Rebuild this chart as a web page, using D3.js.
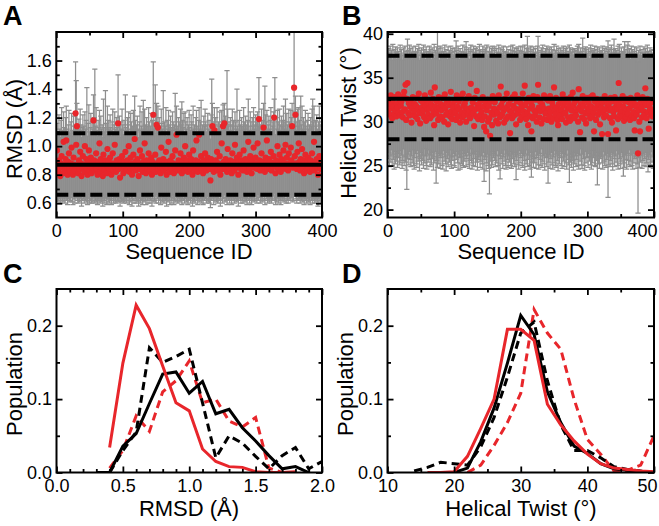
<!DOCTYPE html>
<html><head><meta charset="utf-8">
<script src="https://cdn.jsdelivr.net/npm/d3@7"></script>
<style>body{margin:0;background:#fff}svg{display:block}</style>
</head><body><svg id="c" width="659" height="526"></svg>
<script>
// ---------- Panel A: per-sequence RMSD (Å): mean, lower end, upper end ----------
const rmsdMean=[
0.97,0.84,0.82,0.90,0.86,0.79,0.88,0.93,0.85,0.81,1.03,0.87,0.83,0.91,1.04,0.86,0.80,0.89,0.95,0.84,
0.82,0.88,0.99,0.85,0.80,0.92,0.87,0.83,1.23,1.01,1.14,0.86,0.81,0.90,0.84,0.96,0.88,0.79,0.85,0.93,
0.87,0.82,1.00,0.86,0.91,0.84,0.80,0.89,0.97,0.83,0.86,0.92,0.81,0.88,0.85,1.18,0.90,0.83,0.87,0.95,
0.84,0.80,0.89,0.86,1.02,0.82,0.91,0.85,0.88,0.79,0.94,0.86,0.83,0.90,0.87,0.81,0.98,0.85,0.89,0.84,
0.92,0.86,0.80,0.88,0.95,0.83,0.87,1.01,0.85,0.82,0.90,0.86,1.16,0.84,0.91,0.78,0.88,0.85,0.93,0.87,
0.81,0.89,0.84,0.96,0.86,0.83,0.90,0.87,1.00,0.82,0.85,0.92,0.88,0.80,0.86,0.94,0.84,1.05,0.89,0.83,
0.87,0.91,0.85,0.79,0.88,0.97,0.84,0.86,0.93,0.82,0.89,0.85,1.02,0.87,0.81,0.90,0.86,0.84,0.95,0.88,
0.83,0.86,0.92,0.80,0.89,1.22,0.85,0.87,0.94,0.82,1.15,0.88,1.13,0.84,0.90,0.86,0.81,0.99,0.87,0.85,
0.91,0.83,0.88,0.86,0.96,0.80,0.89,0.85,1.03,0.87,0.82,0.90,0.86,0.84,0.93,0.88,0.81,0.87,0.97,0.85,
1.08,0.86,0.83,0.90,0.88,0.84,0.95,0.87,0.81,0.89,0.86,0.92,0.83,1.00,0.88,0.85,0.90,0.82,0.87,0.94,
0.86,0.84,0.91,0.88,0.80,0.97,0.85,0.87,0.83,0.90,1.04,0.86,0.82,0.89,1.08,0.85,0.88,0.93,0.84,0.87,
0.81,0.90,0.86,0.95,0.88,0.83,0.87,0.92,0.85,0.89,0.84,0.76,0.91,0.86,1.14,0.88,0.82,1.11,0.87,0.90,
0.85,0.96,0.83,0.88,0.86,0.93,0.80,0.87,1.02,0.84,1.14,0.89,1.16,0.85,0.91,0.87,0.82,0.98,0.86,0.88,
0.84,0.90,0.87,0.81,0.95,0.86,0.89,0.83,1.01,0.88,0.85,0.92,0.86,0.80,0.89,0.94,0.87,0.84,0.90,0.86,
0.83,0.97,0.88,0.85,0.91,0.87,0.82,0.89,1.03,0.86,0.84,0.93,0.88,0.81,0.90,0.86,0.99,0.85,0.87,0.92,
0.88,0.84,1.02,0.86,1.19,0.90,0.83,0.87,0.95,0.85,0.89,1.13,0.86,0.82,0.92,0.88,1.04,0.84,0.87,0.91,
0.85,0.89,0.96,0.83,0.88,0.86,0.93,1.20,0.87,0.81,0.90,0.85,1.00,0.88,0.84,0.94,0.87,0.82,0.91,0.86,
0.89,0.97,0.85,0.88,1.01,0.84,0.92,0.87,0.83,0.95,0.88,0.86,0.99,0.90,1.14,0.85,0.87,1.41,0.93,1.22,
0.88,0.84,0.96,0.86,1.02,0.89,0.83,0.91,0.87,0.98,0.85,0.90,0.81,0.88,0.94,0.86,0.83,0.89,0.92,0.85,
0.87,0.82,0.90,0.86,0.95,0.84,0.88,1.03,0.83,0.89,0.86,0.91,0.85,0.80,0.88,0.93,0.87,0.84,0.90,0.86];
const rmsdHigh=[
1.16,1.10,1.08,1.22,1.12,1.06,1.18,1.27,1.11,1.09,1.24,1.13,1.08,1.20,1.28,1.12,1.07,1.15,1.25,1.10,
1.09,1.17,1.23,1.11,1.07,1.21,1.14,1.10,1.59,1.46,1.30,1.12,1.08,1.19,1.11,1.26,1.15,1.06,1.13,1.22,
1.14,1.09,1.24,1.12,1.18,1.41,1.07,1.16,1.29,1.10,1.13,1.23,1.08,1.17,1.12,1.36,1.20,1.54,1.14,1.27,
1.11,1.07,1.18,1.13,1.25,1.09,1.21,1.12,1.15,1.06,1.33,1.13,1.10,1.39,1.16,1.08,1.28,1.12,1.18,1.11,
1.22,1.13,1.07,1.17,1.26,1.10,1.15,1.24,1.12,1.09,1.20,1.13,1.50,1.11,1.21,1.06,1.17,1.12,1.26,1.15,
1.08,1.18,1.11,1.36,1.13,1.10,1.20,1.15,1.24,1.09,1.12,1.23,1.17,1.07,1.14,1.25,1.11,1.35,1.18,1.10,
1.15,1.21,1.12,1.06,1.17,1.28,1.11,1.14,1.24,1.09,1.32,1.12,1.26,1.15,1.08,1.20,1.14,1.11,1.27,1.17,
1.10,1.14,1.23,1.07,1.18,1.59,1.12,1.16,1.43,1.09,1.30,1.17,1.28,1.11,1.20,1.14,1.08,1.26,1.16,1.12,
1.39,1.10,1.17,1.14,1.27,1.07,1.18,1.12,1.25,1.15,1.09,1.21,1.13,1.11,1.24,1.17,1.08,1.15,1.37,1.12,
1.28,1.14,1.10,1.20,1.17,1.11,1.26,1.15,1.31,1.18,1.13,1.23,1.10,1.24,1.17,1.12,1.20,1.09,1.15,1.25,
1.13,1.11,1.22,1.17,1.07,1.28,1.12,1.15,1.10,1.20,1.25,1.14,1.09,1.18,1.27,1.12,1.17,1.32,1.11,1.15,
1.08,1.21,1.14,1.26,1.17,1.10,1.15,1.23,1.12,1.18,1.11,1.05,1.22,1.47,1.30,1.17,1.09,1.27,1.15,1.20,
1.12,1.27,1.10,1.17,1.14,1.24,1.07,1.15,1.25,1.11,1.29,1.18,1.30,1.12,1.21,1.15,1.53,1.26,1.14,1.17,
1.11,1.20,1.15,1.08,1.26,1.14,1.18,1.10,1.24,1.17,1.12,1.40,1.14,1.07,1.18,1.25,1.15,1.11,1.20,1.14,
1.10,1.27,1.17,1.12,1.21,1.15,1.09,1.18,1.33,1.14,1.11,1.24,1.17,1.08,1.20,1.14,1.27,1.12,1.15,1.22,
1.17,1.11,1.24,1.14,1.48,1.20,1.10,1.15,1.26,1.12,1.18,1.30,1.14,1.42,1.22,1.17,1.25,1.11,1.15,1.21,
1.12,1.18,1.27,1.10,1.17,1.14,1.24,1.33,1.48,1.08,1.20,1.12,1.25,1.17,1.11,1.26,1.15,1.09,1.21,1.14,
1.18,1.28,1.12,1.17,1.33,1.11,1.23,1.15,1.10,1.26,1.17,1.14,1.25,1.20,1.30,1.12,1.15,1.80,1.24,1.35,
1.17,1.11,1.26,1.14,1.27,1.18,1.10,1.35,1.15,1.28,1.12,1.20,1.08,1.17,1.25,1.14,1.10,1.18,1.23,1.12,
1.15,1.09,1.20,1.14,1.26,1.33,1.17,1.28,1.10,1.18,1.14,1.22,1.12,1.07,1.17,1.28,1.15,1.11,1.20,1.14];
const rmsdLow=[
0.64,0.61,0.62,0.65,0.63,0.60,0.64,0.66,0.62,0.61,0.65,0.63,0.60,0.64,0.66,0.62,0.59,0.63,0.65,0.61,
0.62,0.64,0.66,0.61,0.59,0.65,0.63,0.60,0.67,0.64,0.66,0.62,0.60,0.64,0.61,0.65,0.63,0.58,0.62,0.65,
0.63,0.60,0.65,0.62,0.64,0.61,0.59,0.63,0.66,0.60,0.62,0.65,0.60,0.63,0.61,0.66,0.64,0.60,0.62,0.65,
0.61,0.59,0.63,0.62,0.65,0.60,0.64,0.61,0.63,0.58,0.65,0.62,0.60,0.64,0.63,0.59,0.66,0.61,0.63,0.60,
0.65,0.62,0.59,0.63,0.66,0.60,0.62,0.65,0.61,0.60,0.64,0.62,0.66,0.61,0.64,0.58,0.63,0.61,0.65,0.62,
0.60,0.63,0.61,0.65,0.62,0.60,0.64,0.62,0.66,0.59,0.61,0.65,0.63,0.58,0.62,0.65,0.60,0.66,0.63,0.60,
0.62,0.64,0.61,0.58,0.63,0.66,0.60,0.62,0.65,0.59,0.63,0.61,0.66,0.62,0.59,0.64,0.62,0.60,0.65,0.63,
0.60,0.62,0.65,0.58,0.63,0.67,0.61,0.62,0.65,0.60,0.66,0.63,0.66,0.60,0.64,0.62,0.59,0.66,0.62,0.61,
0.64,0.60,0.63,0.62,0.65,0.58,0.63,0.61,0.66,0.62,0.59,0.64,0.62,0.60,0.65,0.63,0.59,0.62,0.66,0.61,
0.66,0.62,0.60,0.64,0.63,0.61,0.65,0.62,0.59,0.63,0.62,0.65,0.60,0.66,0.63,0.61,0.64,0.59,0.62,0.65,
0.62,0.60,0.64,0.63,0.58,0.66,0.61,0.62,0.60,0.64,0.66,0.62,0.59,0.63,0.66,0.61,0.63,0.65,0.60,0.62,
0.59,0.64,0.62,0.65,0.63,0.60,0.62,0.65,0.61,0.63,0.60,0.57,0.64,0.62,0.66,0.63,0.59,0.66,0.62,0.64,
0.61,0.65,0.60,0.63,0.62,0.65,0.58,0.62,0.66,0.60,0.66,0.63,0.66,0.61,0.64,0.62,0.59,0.65,0.62,0.63,
0.60,0.64,0.62,0.59,0.65,0.62,0.63,0.60,0.66,0.63,0.61,0.65,0.62,0.58,0.63,0.65,0.62,0.60,0.64,0.62,
0.60,0.66,0.63,0.61,0.64,0.62,0.59,0.63,0.66,0.62,0.60,0.65,0.63,0.59,0.64,0.62,0.66,0.61,0.62,0.65,
0.63,0.60,0.66,0.62,0.67,0.64,0.60,0.62,0.65,0.61,0.63,0.66,0.62,0.59,0.65,0.63,0.66,0.60,0.62,0.64,
0.61,0.63,0.66,0.60,0.63,0.62,0.65,0.67,0.62,0.59,0.64,0.61,0.66,0.63,0.60,0.65,0.62,0.59,0.64,0.62,
0.63,0.66,0.61,0.63,0.66,0.60,0.65,0.62,0.60,0.65,0.63,0.62,0.66,0.64,0.66,0.61,0.62,0.67,0.65,0.66,
0.63,0.60,0.65,0.62,0.66,0.63,0.60,0.64,0.62,0.66,0.61,0.64,0.59,0.63,0.65,0.62,0.60,0.63,0.65,0.61,
0.62,0.59,0.64,0.62,0.65,0.60,0.63,0.66,0.60,0.63,0.62,0.64,0.61,0.58,0.63,0.65,0.62,0.60,0.64,0.62];
const rmsdAverage=0.87, rmsdBand=[0.66,1.09];

// ---------- Panel B: per-sequence helical twist (°): mean, lower end, upper end ----------
const twistMean=[
31.2,32.4,30.8,31.9,33.0,31.5,30.4,32.2,31.7,30.9,32.8,31.3,30.6,32.0,31.6,33.1,31.0,32.5,30.7,31.8,
32.3,31.1,30.5,32.9,33.4,31.4,34.2,30.2,32.6,34.4,31.0,32.1,30.7,31.7,32.4,29.9,31.5,32.8,30.8,31.2,
32.0,30.6,31.8,32.7,30.3,31.5,33.2,31.0,29.8,32.4,31.6,30.9,32.2,31.3,30.5,33.0,31.8,30.1,32.5,31.4,
30.8,32.1,31.5,30.4,33.3,31.9,30.7,32.6,31.2,29.6,33.9,31.7,30.9,32.3,31.4,30.2,32.8,31.6,30.6,32.0,
31.3,30.5,32.7,31.8,30.0,33.1,31.5,30.8,32.2,31.0,29.7,32.5,31.9,30.6,33.4,31.2,30.3,32.0,31.6,30.9,
32.4,31.1,30.2,33.0,31.7,30.6,32.3,31.4,29.9,32.8,31.0,30.5,33.2,31.8,30.7,32.1,31.3,30.0,32.6,31.5,
30.8,32.9,31.2,30.4,34.3,31.6,30.9,32.2,31.0,29.5,32.7,31.4,30.6,33.5,31.9,30.3,32.0,31.5,30.7,32.4,
31.1,30.2,32.8,31.7,29.4,30.6,32.1,28.9,31.3,32.5,30.0,31.8,30.4,28.4,32.3,31.0,29.6,32.9,31.5,30.8,
32.2,31.4,30.1,32.7,31.0,29.8,33.0,31.6,30.5,34.0,31.9,30.8,32.4,31.2,29.9,32.6,31.5,30.3,33.2,31.7,
30.6,32.0,31.3,28.7,32.5,31.1,30.4,32.8,31.8,30.7,33.1,31.5,29.7,32.3,31.0,30.9,32.6,31.4,30.2,32.1,
31.6,30.5,33.2,31.2,30.8,34.1,31.9,30.3,32.4,31.0,29.6,32.7,31.5,30.6,32.2,28.9,31.8,30.4,32.9,31.3,
30.7,32.5,31.1,30.0,32.8,34.2,31.6,30.5,32.3,31.2,29.8,32.0,31.7,30.3,33.0,31.4,30.9,32.6,31.0,30.2,
32.4,31.5,30.6,32.9,31.1,30.0,32.2,31.8,30.4,33.9,31.3,30.8,32.7,31.6,30.2,29.6,32.0,31.2,30.7,32.5,
31.4,30.3,33.1,31.9,30.9,32.3,31.0,29.9,32.6,31.5,30.5,32.1,31.7,30.1,32.8,31.3,30.6,33.3,31.8,30.4,
32.2,31.1,30.7,32.5,31.4,30.0,33.7,31.6,28.8,32.0,31.2,30.5,32.9,31.8,30.3,32.4,31.0,29.8,32.7,31.5,
30.9,32.1,31.3,30.4,32.8,31.7,30.6,33.0,31.1,28.9,32.3,31.5,30.2,32.6,31.9,30.8,32.0,31.2,29.7,32.5,
31.6,28.6,32.2,31.0,30.5,32.9,31.4,30.7,32.4,31.8,28.6,32.0,31.3,30.4,32.7,31.5,29.9,32.3,31.1,30.6,
32.8,31.6,29.0,32.1,31.4,30.3,34.4,31.9,30.8,32.5,31.2,30.6,32.9,31.7,30.1,32.3,31.0,30.5,32.6,31.4,
30.9,32.2,31.5,30.2,32.7,31.8,30.6,32.4,31.1,30.4,29.0,32.0,31.7,30.8,33.0,26.4,31.3,30.0,28.9,32.1,
31.6,30.5,32.8,31.2,30.7,32.3,33.8,31.9,30.4,32.6,31.1,29.2,32.0,31.5,30.8,32.4,31.0,30.6,32.2,31.4];
const twistHigh=[
37.8,38.3,37.2,38.6,37.5,38.1,37.0,38.8,37.6,38.2,37.3,38.5,37.9,37.1,38.4,37.7,38.0,37.4,38.7,37.6,
38.2,37.5,37.0,38.4,37.8,38.6,37.3,38.0,37.6,39.4,38.1,37.4,38.7,37.2,38.3,37.9,37.1,38.5,37.7,38.0,
37.4,38.6,37.9,37.2,38.3,37.6,38.8,37.0,38.1,37.5,38.4,37.8,37.3,38.7,37.6,38.2,37.1,38.5,37.9,37.4,
38.0,37.3,38.6,37.7,38.2,37.1,38.4,37.9,37.5,38.8,37.2,38.1,37.6,38.5,40.5,37.8,38.3,37.0,38.6,37.4,
37.9,38.4,37.2,38.0,37.6,38.7,37.3,38.2,37.8,37.1,38.5,37.7,38.1,37.4,38.6,37.9,37.2,38.3,37.6,38.0,
38.4,37.5,39.2,38.1,37.3,38.6,37.8,37.1,38.3,37.6,38.0,37.4,38.7,37.9,37.2,38.5,37.7,39.1,38.2,37.5,
37.8,38.4,37.1,38.0,38.7,37.6,38.2,37.3,38.6,37.9,37.5,38.3,37.0,38.5,37.7,38.1,37.4,38.8,37.6,38.2,
37.3,38.0,38.6,37.5,38.2,37.8,38.4,37.1,38.7,37.6,38.0,37.4,38.5,37.9,37.2,38.3,37.7,38.6,37.5,38.1,
38.5,37.6,37.2,38.3,37.9,37.4,38.7,37.8,37.1,38.4,37.7,38.2,37.5,38.6,37.3,38.0,37.9,37.2,38.5,37.6,
37.4,38.2,37.8,37.0,38.6,37.5,38.1,38.7,37.3,38.0,38.4,37.6,37.9,38.3,37.2,38.5,37.7,38.1,37.4,38.6,
38.0,37.3,38.5,37.8,37.5,38.7,37.9,37.2,38.3,39.7,37.6,38.4,37.1,38.0,38.6,37.4,38.2,37.7,38.5,37.9,
37.5,38.3,37.8,37.2,38.6,39.7,37.9,37.4,38.1,37.6,38.4,37.3,38.7,37.8,38.0,37.5,38.3,37.1,38.6,37.7,
38.2,37.6,38.4,37.9,37.3,38.5,37.0,38.2,37.7,38.8,37.5,38.1,37.4,38.6,37.8,37.2,38.3,37.9,37.6,38.4,
37.7,38.1,37.4,38.6,37.9,37.2,38.3,37.6,38.5,37.3,38.0,37.8,38.7,37.1,38.4,37.9,37.5,38.2,37.6,38.0,
38.3,37.5,38.1,37.8,38.6,37.3,38.8,37.9,37.2,38.4,37.7,38.0,39.5,37.6,38.3,37.4,38.5,37.1,38.2,37.8,
37.6,38.4,37.2,38.0,38.7,37.5,38.3,37.9,38.1,37.4,38.6,37.7,38.2,37.3,38.5,37.8,37.1,38.4,37.6,38.0,
38.1,37.4,38.6,37.8,37.2,38.3,37.7,38.5,37.5,38.0,39.2,38.2,37.6,38.4,37.3,38.7,37.8,37.4,38.2,39.4,
37.9,38.3,37.5,38.1,37.7,38.6,37.4,38.8,37.8,37.2,38.4,37.6,38.0,37.9,38.5,39.1,37.3,38.2,37.6,38.7,
39.1,37.5,38.3,37.9,37.1,38.6,37.7,38.2,37.4,38.0,38.5,37.8,37.3,38.4,37.6,36.8,38.1,37.5,38.6,37.9,
37.4,38.2,37.8,37.1,38.5,37.6,38.3,37.9,37.2,38.7,37.5,38.0,37.7,38.4,37.3,38.1,37.8,37.5,38.2,37.6];
const twistLow=[
25.8,26.5,24.9,26.1,25.4,26.8,25.0,26.3,25.7,24.6,26.6,25.2,26.0,25.5,24.8,26.4,25.9,25.1,26.7,25.3,
26.2,24.7,25.6,26.9,25.0,26.0,25.4,24.5,22.3,25.8,26.3,25.1,26.6,25.7,24.9,26.1,25.3,26.8,25.0,24.6,
25.9,26.4,25.2,24.8,26.7,25.5,26.0,24.4,25.8,26.5,25.1,26.2,25.6,24.7,26.9,25.3,26.1,25.0,24.6,26.3,
25.4,26.8,25.7,24.9,26.2,25.1,26.5,25.8,24.5,26.0,25.3,26.6,23.0,25.6,24.8,26.4,25.2,26.1,24.7,25.9,
26.3,25.0,24.6,26.7,25.5,26.0,25.2,24.4,26.5,25.8,24.9,26.2,25.4,26.8,25.1,24.7,26.0,25.6,26.4,25.0,
24.8,26.1,25.7,26.6,25.3,24.5,26.3,25.9,24.6,26.0,25.2,26.7,25.0,24.8,26.4,25.5,26.1,24.9,25.8,26.5,
25.1,26.2,24.7,25.6,26.9,25.3,24.6,26.4,25.0,25.8,26.3,24.9,26.6,25.4,24.5,26.0,25.7,26.2,24.8,25.5,
26.1,25.2,24.6,26.5,23.2,25.7,26.0,24.4,25.3,26.3,25.0,24.7,21.8,26.2,25.5,24.8,26.6,25.1,25.9,26.4,
25.6,24.9,26.2,25.3,26.7,25.0,24.5,26.1,23.5,25.8,26.4,25.2,24.7,26.0,25.5,26.8,25.0,24.6,26.3,25.7,
24.8,26.1,25.4,26.6,25.0,24.7,26.3,25.8,25.2,26.5,24.9,26.0,23.4,25.6,26.2,25.1,24.6,26.7,25.3,25.9,
26.4,25.0,24.8,26.1,25.6,24.5,26.3,25.2,26.8,24.9,25.7,26.2,25.0,24.6,26.5,23.7,25.4,26.0,24.8,25.8,
25.3,26.6,24.7,25.9,26.2,25.1,24.6,26.4,25.7,25.0,26.9,24.8,25.5,26.1,25.2,24.5,26.3,25.9,24.9,26.0,
23.0,25.4,26.2,24.7,25.8,26.5,25.1,24.6,26.0,25.3,26.7,25.0,24.8,26.3,25.6,24.4,26.1,25.2,25.9,26.6,
25.0,24.7,26.4,25.5,26.0,24.9,26.2,25.3,24.6,26.8,25.7,25.1,23.1,26.3,25.4,24.8,26.0,25.6,24.5,26.5,
25.2,26.1,24.9,25.7,26.4,25.0,24.6,26.2,25.5,26.9,25.1,24.7,26.3,25.8,25.0,24.5,26.6,25.3,25.9,26.0,
24.8,26.4,25.5,26.0,25.1,24.6,26.7,25.3,25.9,26.2,25.0,24.9,26.5,25.6,22.8,26.1,25.2,24.7,26.3,25.8,
26.0,25.3,24.6,26.6,25.5,25.0,26.2,24.8,25.7,26.4,21.4,25.1,26.0,24.9,25.6,26.5,25.2,24.5,26.3,25.8,
24.9,26.1,25.4,26.7,25.0,24.6,26.3,25.8,25.2,24.7,26.5,25.5,26.0,23.8,25.3,24.8,26.2,25.7,24.6,26.4,
25.6,25.1,26.8,24.9,25.5,26.2,25.0,24.6,26.4,25.3,25.8,26.0,24.7,26.5,25.2,19.6,25.9,24.8,26.3,25.4,
26.1,24.7,25.6,26.3,25.0,25.8,26.5,24.9,25.3,26.0,24.3,25.7,26.2,25.1,24.8,26.6,25.4,26.0,24.7,25.5];
const twistAverage=32.6, twistBand=[28.0,37.5];

// ---------- Panel C: RMSD histograms ----------
const rmsdBins=[0.3,0.4,0.5,0.6,0.7,0.8,0.9,1.0,1.1,1.2,1.3,1.4,1.5,1.6,1.7,1.8,1.9,2.0];
const rmsdBlackSolid=[0,0,0.036,0.053,0.094,0.134,0.137,0.108,0.124,0.080,0.086,0.061,0.043,0.023,0.005,0.008,0,null];
const rmsdBlackDashed=[null,0,0.030,0.055,0.170,0.150,0.158,0.168,0.095,0.020,0.050,0.040,0.022,0.005,0.023,0.034,0.005,0.015];
const rmsdRedSolid=[null,0.034,0.149,0.228,0.196,0.145,0.095,0.084,0.032,0.015,0.008,0.007,0.001,0,0,0.001,null,null];
const rmsdRedDashed=[null,0.006,0.030,0.077,0.056,0.110,0.125,0.152,0.095,0.100,0.070,0.062,0.075,0.006,0,null,null,null];

// ---------- Panel D: helical twist histograms ----------
const twistBins=[14,16,18,20,22,24,26,28,30,32,34,36,38,40,42,44,46,48,50];
const twistBlackSolid=[null,null,null,0,0.006,0.042,0.088,0.149,0.214,0.188,0.110,0.068,0.036,0.026,0.012,0.005,0.003,0.001,0];
const twistBlackDashed=[0.002,0.007,0.014,0.012,0.010,0.035,0.075,0.130,0.190,0.205,0.125,0.065,0.030,0.030,0.020,0.008,0.004,0.002,0];
const twistRedSolid=[null,0,0,0.001,0.022,0.060,0.100,0.195,0.195,0.180,0.093,0.065,0.043,0.025,0.012,0.006,0.004,0.002,0.001];
const twistRedDashed=[null,null,null,null,0,0.010,0.037,0.068,0.108,0.222,0.190,0.168,0.100,0.045,0.025,0.002,0.003,0.010,0.050];

// ---------- drawing ----------
const FONT='"Liberation Sans", Arial, Helvetica, sans-serif';
const RED="#e8262b", GRAY="#8e8e8e";
const svg=d3.select("#c").attr("font-family",FONT);
svg.append("rect").attr("width",659).attr("height",526).attr("fill","#fff");
const defs=svg.append("defs");

function makeClip(id,x,y){
  defs.append("clipPath").attr("id",id).append("rect")
    .attr("x",x.range()[0]).attr("y",y.range()[1])
    .attr("width",x.range()[1]-x.range()[0]).attr("height",y.range()[0]-y.range()[1]);
}

function axes(x,y,o){
  const [x0,x1]=x.range(), [y0,y1]=y.range();
  const draw=(gen,tr,vals,size,fmt,pad)=>{
    const a=svg.append("g").attr("transform",tr)
      .call(gen.tickValues(vals).tickSize(size).tickSizeOuter(0).tickPadding(pad||0).tickFormat(fmt||(()=>"")));
    a.select(".domain").remove();
    a.selectAll("line").attr("stroke","#000").attr("stroke-width",1.8);
    a.selectAll("text").attr("font-size",18).attr("font-family",FONT).attr("fill","#000");
    return a;
  };
  const bx=draw(d3.axisBottom(x),`translate(0,${y0})`,o.xMajor,-6,o.xFmt,6.5);
  draw(d3.axisBottom(x),`translate(0,${y0})`,o.xMinor,-3.5);
  draw(d3.axisTop(x),`translate(0,${y1})`,o.xMajor,-6);
  draw(d3.axisTop(x),`translate(0,${y1})`,o.xMinor,-3.5);
  draw(d3.axisLeft(y),`translate(${x0},0)`,o.yMajor,-6,o.yFmt,4.5);
  draw(d3.axisLeft(y),`translate(${x0},0)`,o.yMinor,-3.5);
  draw(d3.axisRight(y),`translate(${x1},0)`,o.yMajor,-6);
  draw(d3.axisRight(y),`translate(${x1},0)`,o.yMinor,-3.5);
  svg.append("rect").attr("x",x0).attr("y",y1).attr("width",x1-x0).attr("height",y0-y1)
    .attr("fill","none").attr("stroke","#000").attr("stroke-width",2);
  return bx;
}

function label(txt,x,y){
  svg.append("text").attr("x",x).attr("y",y).attr("font-size",27).attr("font-weight","bold").text(txt);
}
function xTitle(txt,cx,y){
  svg.append("text").attr("x",cx).attr("y",y).attr("text-anchor","middle").attr("font-size",22).text(txt);
}
function yTitle(txt,x,cy){
  svg.append("text").attr("transform",`translate(${x},${cy}) rotate(-90)`).attr("text-anchor","middle").attr("font-size",22).text(txt);
}

function scatterPanel(id,mean,lo,hi,avg,band,x,y){
  makeClip(id,x,y);
  const g=svg.append("g").attr("clip-path",`url(#${id})`);
  const ids=d3.range(1,mean.length+1);
  g.append("g").selectAll("path").data(ids).join("path")
    .attr("d",i=>{const px=x(i),yh=y(hi[i-1]),yl=y(lo[i-1]);
      return `M${px-2.6},${yh}H${px+2.6}M${px},${yh}V${yl}M${px-2.6},${yl}H${px+2.6}`;})
    .attr("stroke",GRAY).attr("stroke-width",1.25).attr("fill","none");
  g.append("g").selectAll("circle").data(ids).join("circle")
    .attr("cx",i=>x(i)).attr("cy",i=>y(mean[i-1])).attr("r",3.1).attr("fill",RED);
  const [xa,xb]=x.domain();
  const hl=v=>g.append("line").attr("x1",x(xa)).attr("x2",x(xb)).attr("y1",y(v)).attr("y2",y(v)).attr("stroke","#000").attr("stroke-width",4);
  hl(avg);
  band.forEach(v=>hl(v).attr("stroke-dasharray","12,5"));
}

function histPanel(id,bins,series,x,y){
  makeClip(id,x,y);
  const g=svg.append("g").attr("clip-path",`url(#${id})`);
  series.forEach(s=>{
    const line=d3.line().defined(d=>d[1]!=null).x(d=>x(d[0])).y(d=>y(d[1]));
    g.append("path").datum(bins.map((b,i)=>[b,s.v[i]])).attr("d",line)
      .attr("fill","none").attr("stroke",s.c).attr("stroke-width",3)
      .attr("stroke-linejoin","miter").attr("stroke-dasharray",s.dash?"8,5":null);
  });
}

// Panel A
const xA=d3.scaleLinear().domain([0,400]).range([56.3,322]);
const yA=d3.scaleLinear().domain([0.5,1.8]).range([217.5,32]);
scatterPanel("clipA",rmsdMean,rmsdLow,rmsdHigh,rmsdAverage,rmsdBand,xA,yA);
axes(xA,yA,{xMajor:[0,100,200,300,400],xMinor:[50,150,250,350],xFmt:d3.format("d"),
  yMajor:[0.6,0.8,1.0,1.2,1.4,1.6],yMinor:[0.7,0.9,1.1,1.3,1.5,1.7],yFmt:d3.format(".1f")});
label("A",3,25); xTitle("Sequence ID",189,259); yTitle("RMSD (Å)",22,129);

// Panel B
const xB=d3.scaleLinear().domain([0,400]).range([387.5,654]);
const yB=d3.scaleLinear().domain([19.1,40.2]).range([217.5,32]);
scatterPanel("clipB",twistMean,twistLow,twistHigh,twistAverage,twistBand,xB,yB);
const bxB=axes(xB,yB,{xMajor:[0,100,200,300,400],xMinor:[50,150,250,350],xFmt:d3.format("d"),
  yMajor:[20,25,30,35,40],yMinor:[22.5,27.5,32.5,37.5],yFmt:d3.format("d")});
bxB.selectAll("text").filter(d=>d===400).attr("dx",-12);
label("B",342,25); xTitle("Sequence ID",521,259); yTitle("Helical Twist (°)",356,123);

// Panel C
const xC=d3.scaleLinear().domain([0,2]).range([56.5,322]);
const yC=d3.scaleLinear().domain([0,0.25]).range([472.5,289]);
histPanel("clipC",rmsdBins,[
  {v:rmsdRedDashed,c:RED,dash:true},{v:rmsdBlackDashed,c:"#000",dash:true},
  {v:rmsdBlackSolid,c:"#000"},{v:rmsdRedSolid,c:RED}],xC,yC);
axes(xC,yC,{xMajor:[0,0.5,1,1.5,2],xMinor:[0.1,0.2,0.3,0.4,0.6,0.7,0.8,0.9,1.1,1.2,1.3,1.4,1.6,1.7,1.8,1.9],xFmt:d3.format(".1f"),
  yMajor:[0,0.1,0.2],yMinor:[0.05,0.15],yFmt:d3.format(".1f")});
label("C",3,283); xTitle("RMSD (Å)",189,516); yTitle("Population",22,384);

// Panel D
const xD=d3.scaleLinear().domain([10,50]).range([387.5,654]);
const yD=d3.scaleLinear().domain([0,0.25]).range([472.5,289]);
histPanel("clipD",twistBins,[
  {v:twistRedDashed,c:RED,dash:true},{v:twistBlackDashed,c:"#000",dash:true},
  {v:twistBlackSolid,c:"#000"},{v:twistRedSolid,c:RED}],xD,yD);
const bxD=axes(xD,yD,{xMajor:[10,20,30,40,50],xMinor:[15,25,35,45],xFmt:d3.format("d"),
  yMajor:[0,0.1,0.2],yMinor:[0.05,0.15],yFmt:d3.format(".1f")});
bxD.selectAll("text").filter(d=>d===50).attr("dx",-7);
label("D",342,283); xTitle("Helical Twist (°)",521,516); yTitle("Population",353,384);
</script></body></html>
